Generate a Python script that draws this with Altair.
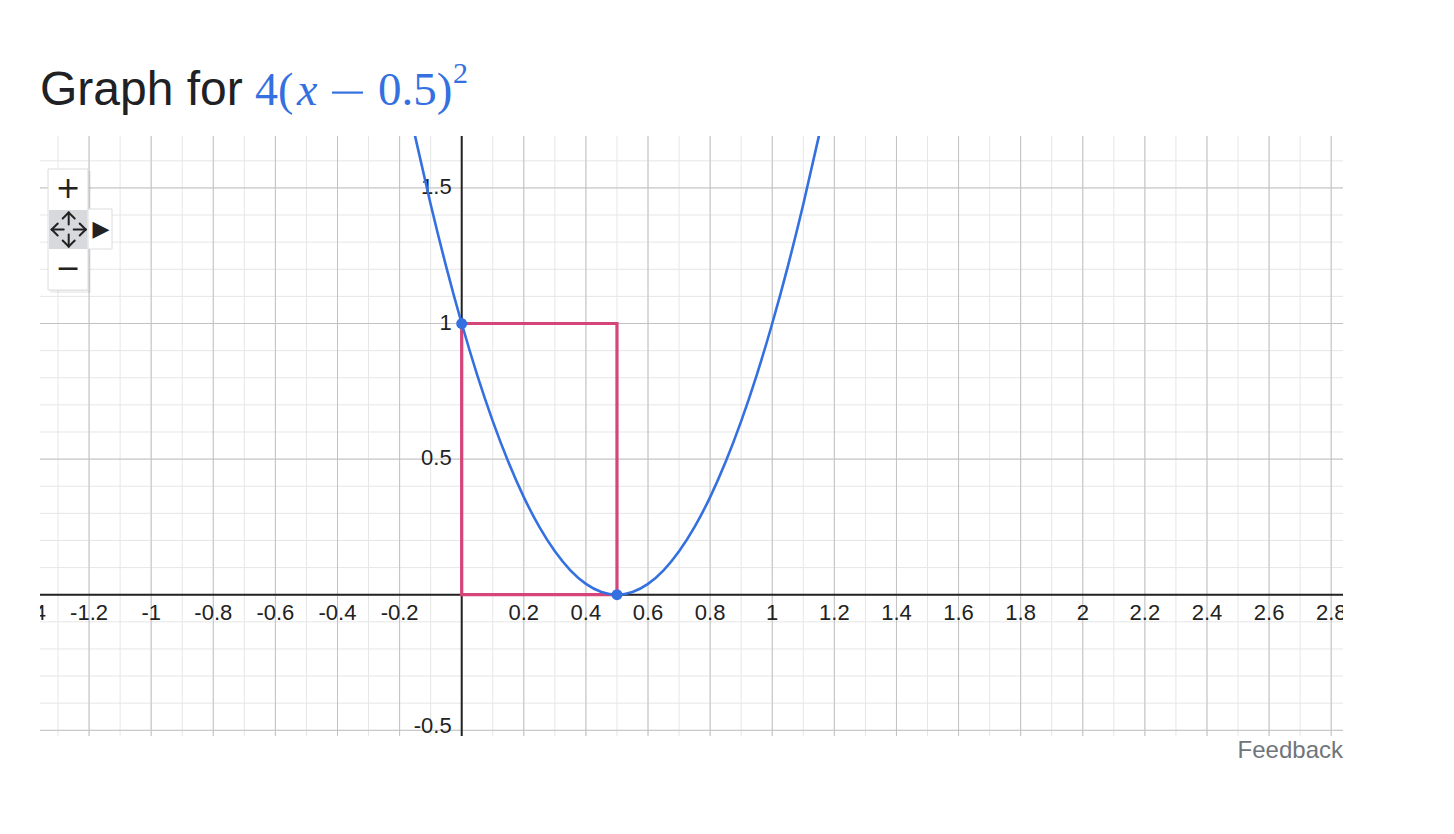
import altair as alt
import pandas as pd

# ---- data ----
curve_x = [-0.2, -0.15, -0.1, -0.05, 0.0, 0.05, 0.1, 0.15, 0.2, 0.25, 0.3, 0.35, 0.4, 0.45,
           0.5, 0.55, 0.6, 0.65, 0.7, 0.75, 0.8, 0.85, 0.9, 0.95, 1.0, 1.05, 1.1, 1.15, 1.2]
curve_y = [1.96, 1.69, 1.44, 1.21, 1.0, 0.81, 0.64, 0.49, 0.36, 0.25, 0.16, 0.09, 0.04, 0.01,
           0.0, 0.01, 0.04, 0.09, 0.16, 0.25, 0.36, 0.49, 0.64, 0.81, 1.0, 1.21, 1.44, 1.69, 1.96]
point_x = [0.0, 0.5]
point_y = [1.0, 0.0]
rect_x = [0.0, 0.5]
rect_y = [0.0, 1.0]

x_tick_values = [-1.4, -1.2, -1.0, -0.8, -0.6, -0.4, -0.2, 0.2, 0.4, 0.6, 0.8, 1.0,
                 1.2, 1.4, 1.6, 1.8, 2.0, 2.2, 2.4, 2.6, 2.8]
x_tick_labels = ["-1.4", "-1.2", "-1", "-0.8", "-0.6", "-0.4", "-0.2", "0.2", "0.4", "0.6",
                 "0.8", "1", "1.2", "1.4", "1.6", "1.8", "2", "2.2", "2.4", "2.6", "2.8"]
y_tick_values = [1.5, 1.0, 0.5]
y_tick_labels = ["1.5", "1", "0.5"]
y_low_value = [-0.5]
y_low_label = ["-0.5"]

x_minor = [round(-1.3 + 0.1 * i, 1) for i in range(42)]
y_minor = [round(-0.5 + 0.1 * i, 1) for i in range(22)]
x_major = [v for v in x_minor if abs(v * 5 - round(v * 5)) < 1e-9]
y_major = [-0.5, 0.0, 0.5, 1.0, 1.5]

X_DOMAIN = [-1.358, 2.838]
Y_DOMAIN = [-0.521, 1.6914]

BLUE = "#3470e0"
PINK = "#d6457a"
INK = "#222222"
W, H = 1303, 600

xs = alt.Scale(domain=X_DOMAIN, nice=False, zero=False)
ys = alt.Scale(domain=Y_DOMAIN, nice=False, zero=False)

def X(f):
    return alt.X(f, type="quantitative", scale=xs, axis=None)

def Y(f):
    return alt.Y(f, type="quantitative", scale=ys, axis=None)

one = pd.DataFrame({"k": [0]})

minor_v = alt.Chart(pd.DataFrame({"x": x_minor})).mark_rule(color="#e6e6e6", strokeWidth=1).encode(x=X("x"))
minor_h = alt.Chart(pd.DataFrame({"y": y_minor})).mark_rule(color="#e6e6e6", strokeWidth=1).encode(y=Y("y"))
major_v = alt.Chart(pd.DataFrame({"x": x_major})).mark_rule(color="#c2c2c2", strokeWidth=1).encode(x=X("x"))
major_h = alt.Chart(pd.DataFrame({"y": y_major})).mark_rule(color="#c2c2c2", strokeWidth=1).encode(y=Y("y"))

xlab = alt.Chart(pd.DataFrame({"x": x_tick_values, "t": x_tick_labels, "y": [0.0] * len(x_tick_values)})).mark_text(
    align="center", baseline="middle", dy=18, fontSize=22, font="Liberation Sans", color=INK, clip=True
).encode(x=X("x"), y=Y("y"), text="t:N")
ylab = alt.Chart(pd.DataFrame({"y": y_tick_values, "t": y_tick_labels, "x": [0.0] * len(y_tick_values)})).mark_text(
    align="right", baseline="middle", dx=-10, dy=-1, fontSize=22, font="Liberation Sans", color=INK, clip=True
).encode(x=X("x"), y=Y("y"), text="t:N")
ylab_low = alt.Chart(pd.DataFrame({"y": y_low_value, "t": y_low_label, "x": [0.0]})).mark_text(
    align="right", baseline="middle", dx=-10, dy=-4, fontSize=22, font="Liberation Sans", color=INK, clip=True
).encode(x=X("x"), y=Y("y"), text="t:N")

axis_x = alt.Chart(pd.DataFrame({"y": [0.0]})).mark_rule(color=INK, strokeWidth=2).encode(y=Y("y"))
axis_y = alt.Chart(pd.DataFrame({"x": [0.0]})).mark_rule(color=INK, strokeWidth=2).encode(x=X("x"))

rect = alt.Chart(pd.DataFrame({"x": [rect_x[0]], "x2": [rect_x[1]], "y": [rect_y[0]], "y2": [rect_y[1]]})).mark_rect(
    fillOpacity=0, stroke=PINK, strokeWidth=3.2, clip=True
).encode(x=X("x"), x2="x2", y=Y("y"), y2="y2")

curve = alt.Chart(pd.DataFrame({"x": curve_x, "y": curve_y})).mark_line(
    color=BLUE, strokeWidth=2.6, interpolate="monotone", clip=True
).encode(x=X("x"), y=Y("y"), order="x:Q")

pts = alt.Chart(pd.DataFrame({"x": point_x, "y": point_y})).mark_circle(
    color=BLUE, size=120, opacity=1
).encode(x=X("x"), y=Y("y"))


def ptext(txt, x, y, **kw):
    return alt.Chart(one).mark_text(text=txt, **kw).encode(x=alt.value(x), y=alt.value(y))


def prect(x, x2, y, y2, **kw):
    return alt.Chart(one).mark_rect(**kw).encode(
        x=alt.value(x), x2=alt.value(x2), y=alt.value(y), y2=alt.value(y2))


def pline(x, y, x2, y2, **kw):
    return alt.Chart(one).mark_rule(**kw).encode(
        x=alt.value(x), x2=alt.value(x2), y=alt.value(y), y2=alt.value(y2))


# title pieces (pixel offsets relative to plot origin)
title = [
    ptext("Graph for", 0, -31, align="left", baseline="alphabetic", fontSize=48,
          font="Liberation Sans", color="#202124"),
    ptext("4(", 215, -31, align="left", baseline="alphabetic", fontSize=46,
          font="Liberation Serif", color=BLUE),
    ptext("x", 257, -31, align="left", baseline="alphabetic", fontSize=46,
          font="Liberation Serif", fontStyle="italic", color=BLUE),
    prect(292, 323, -44.5, -42.3, fill=BLUE),
    ptext("0.5)", 338, -31, align="left", baseline="alphabetic", fontSize=47,
          font="Liberation Serif", color=BLUE),
    ptext("2", 413, -53, align="left", baseline="alphabetic", fontSize=30,
          font="Liberation Serif", color=BLUE),
]

# zoom control widget
cx, cy = 28.7, 93.5
ik = dict(color=INK, strokeWidth=2, strokeCap="round")
widget = [
    prect(10, 51, 35, 157, fill="#000000", opacity=0.06),
    prect(8, 48, 33, 154, fill="#ffffff", stroke="#dadce0", strokeWidth=1),
    prect(48, 72, 73, 113, fill="#ffffff", stroke="#dadce0", strokeWidth=1),
    prect(9, 47, 74, 113, fill="#d8d9dc"),
    ptext("+", 28, 53, align="center", baseline="middle", fontSize=30, font="DejaVu Sans", color=INK),
    ptext("\u2212", 28, 133, align="center", baseline="middle", fontSize=30, font="DejaVu Sans", color=INK),
    # move icon: four arrows
    pline(cx - 17, cy, cx - 5, cy, **ik),
    pline(cx + 5, cy, cx + 17, cy, **ik),
    pline(cx, cy - 17, cx, cy - 5, **ik),
    pline(cx, cy + 5, cx, cy + 17, **ik),
    pline(cx - 17, cy, cx - 11, cy - 6, **ik),
    pline(cx - 17, cy, cx - 11, cy + 6, **ik),
    pline(cx + 17, cy, cx + 11, cy - 6, **ik),
    pline(cx + 17, cy, cx + 11, cy + 6, **ik),
    pline(cx, cy - 17, cx - 6, cy - 11, **ik),
    pline(cx, cy - 17, cx + 6, cy - 11, **ik),
    pline(cx, cy + 17, cx - 6, cy + 11, **ik),
    pline(cx, cy + 17, cx + 6, cy + 11, **ik),
    ptext("\u25b6", 61, 93, align="center", baseline="middle", fontSize=22, font="DejaVu Sans", color=INK),
]

feedback = ptext("Feedback", W, 622, align="right", baseline="alphabetic", fontSize=24,
                 font="Liberation Sans", color="#70757a")

chart = alt.layer(
    minor_v, minor_h, major_v, major_h, xlab, ylab, ylab_low, axis_x, axis_y,
    rect, curve, pts, *title, *widget, feedback
).properties(
    width=W, height=H,
    autosize=alt.AutoSizeParams(type="none"),
    padding={"left": 32, "top": 128, "right": 10, "bottom": 40},
).configure_view(stroke=None)

chart.save("out.html", embed_options={"renderer": "svg", "actions": False})
